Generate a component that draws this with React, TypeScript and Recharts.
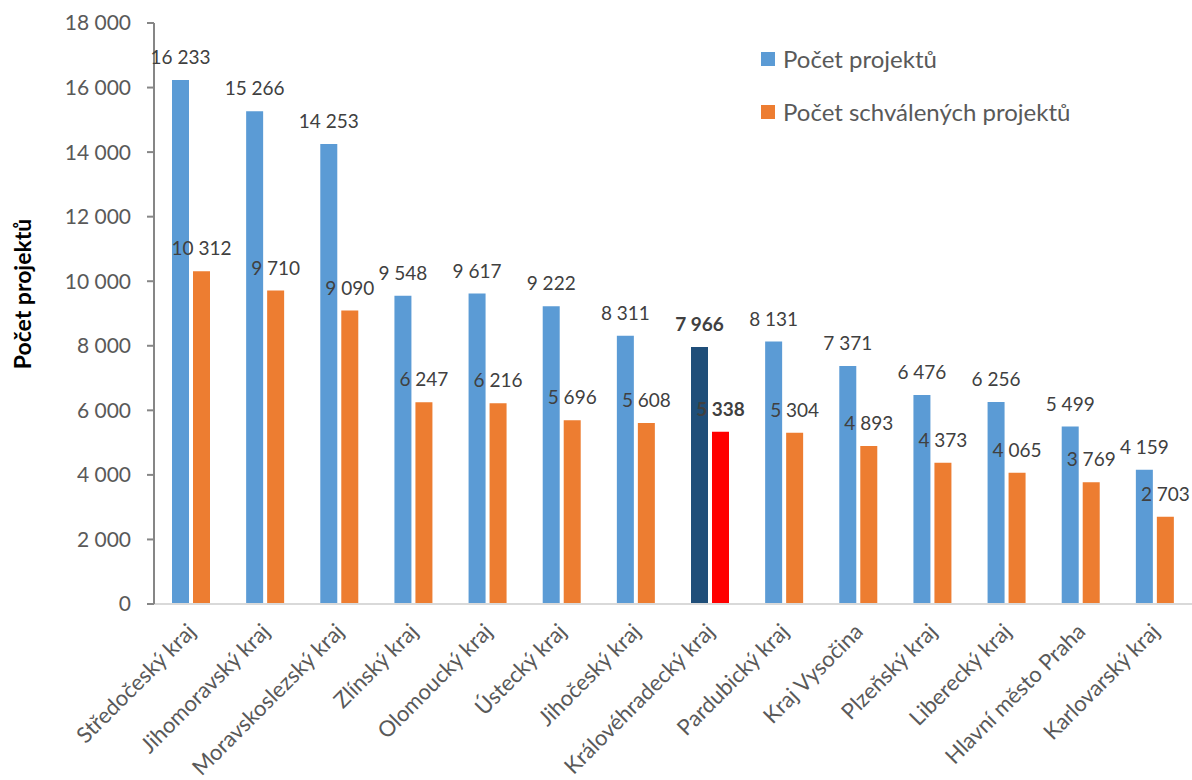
import React from 'react';
import { BarChart, Bar, XAxis, YAxis, Cell, LabelList, Label } from 'recharts';

const CATEGORIES = [
  'Středočeský kraj',
  'Jihomoravský kraj',
  'Moravskoslezský kraj',
  'Zlínský kraj',
  'Olomoucký kraj',
  'Ústecký kraj',
  'Jihočeský kraj',
  'Královéhradecký kraj',
  'Pardubický kraj',
  'Kraj Vysočina',
  'Plzeňský kraj',
  'Liberecký kraj',
  'Hlavní město Praha',
  'Karlovarský kraj',
];

const PROJECTS = [16233, 15266, 14253, 9548, 9617, 9222, 8311, 7966, 8131, 7371, 6476, 6256, 5499, 4159];
const APPROVED = [10312, 9710, 9090, 6247, 6216, 5696, 5608, 5338, 5304, 4893, 4373, 4065, 3769, 2703];

const Y_TICKS = [0, 2000, 4000, 6000, 8000, 10000, 12000, 14000, 16000, 18000];
const HIGHLIGHT = 'Královéhradecký kraj';

const SERIES_NAMES = ['Počet projektů', 'Počet schválených projektů'];

const BLUE = '#5B9BD5';
const ORANGE = '#ED7D31';
const DARK_BLUE = '#1F4E79';
const RED = '#FF0000';

const FONT = 'Lato, "Open Sans", sans-serif';

const data = CATEGORIES.map((name, i) => ({ name, projects: PROJECTS[i], approved: APPROVED[i] }));

const fmt = (v: number) => String(v).replace(/\B(?=(\d{3})+(?!\d))/g, ' ');

const renderValueLabel = (props: any) => {
  const { x, y, width, value, index } = props;
  const bold = CATEGORIES[index] === HIGHLIGHT;
  return (
    <text
      x={Number(x) + Number(width) / 2}
      y={Number(y) - 16}
      textAnchor="middle"
      fontSize={19}
      fontFamily={FONT}
      fontWeight={bold ? 700 : 400}
      fill="#404040"
    >
      {fmt(Number(value))}
    </text>
  );
};

const CategoryTick = (props: any) => {
  const { x, y, payload } = props;
  return (
    <g transform={`translate(${x + 6},${y + 21})`}>
      <text transform="rotate(-45)" textAnchor="end" fontSize={22} fontFamily={FONT} fill="#595959">
        {payload.value}
      </text>
    </g>
  );
};

// legend drawn as plain overlay so it does not shift the plot area
const LegendBox = () => (
  <div
    style={{
      position: 'absolute',
      left: 761,
      top: 32,
      fontFamily: FONT,
      fontSize: 24,
      color: '#595959',
    }}
  >
    {SERIES_NAMES.map((n, i) => (
      <div key={n} style={{ display: 'flex', alignItems: 'center', height: 53 }}>
        <span
          style={{
            display: 'inline-block',
            width: 14,
            height: 14,
            marginRight: 8,
            backgroundColor: i === 0 ? BLUE : ORANGE,
          }}
        />
        <span>{n}</span>
      </div>
    ))}
  </div>
);

export default function App() {
  return (
    <div style={{ position: 'absolute', left: 0, top: 0, width: 1192, height: 780, background: '#fff' }}>
      <BarChart
        width={1192}
        height={780}
        data={data}
        margin={{ top: 23, right: 0, left: 0, bottom: 0 }}
        barSize={17}
        barGap={4}
      >
        <XAxis
          dataKey="name"
          interval={0}
          height={176}
          tickLine={false}
          axisLine={{ stroke: '#D9D9D9', strokeWidth: 2 }}
          tick={<CategoryTick />}
        />
        <YAxis
          width={154}
          domain={[0, 18000]}
          ticks={Y_TICKS}
          tickFormatter={fmt}
          tickSize={7}
          tickMargin={16}
          axisLine={{ stroke: '#868686', strokeWidth: 2 }}
          tickLine={{ stroke: '#868686', strokeWidth: 2 }}
          tick={{ fill: '#595959', fontSize: 21, fontFamily: FONT }}
        >
          <Label
            content={() => (
              <text
                x={25}
                y={294}
                transform="rotate(-90, 25, 294)"
                textAnchor="middle"
                dominantBaseline="middle"
                fontSize={23}
                fontWeight={700}
                fontFamily={FONT}
                fill="#000"
              >
                Počet projektů
              </text>
            )}
          />
        </YAxis>
        <Bar dataKey="projects" name={SERIES_NAMES[0]} fill={BLUE} isAnimationActive={false}>
          {data.map((d) => (
            <Cell key={`p-${d.name}`} fill={d.name === HIGHLIGHT ? DARK_BLUE : BLUE} />
          ))}
          <LabelList dataKey="projects" content={renderValueLabel} />
        </Bar>
        <Bar dataKey="approved" name={SERIES_NAMES[1]} fill={ORANGE} isAnimationActive={false}>
          {data.map((d) => (
            <Cell key={`a-${d.name}`} fill={d.name === HIGHLIGHT ? RED : ORANGE} />
          ))}
          <LabelList dataKey="approved" content={renderValueLabel} />
        </Bar>
      </BarChart>
      <LegendBox />
    </div>
  );
}
